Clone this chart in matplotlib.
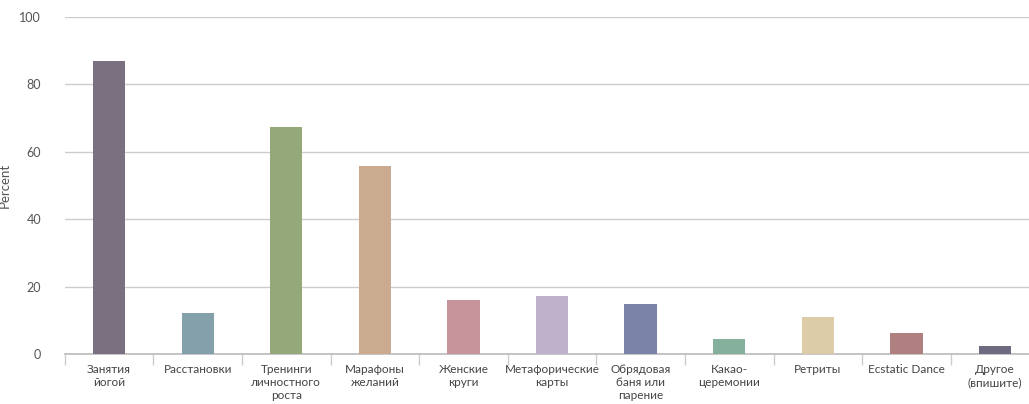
import numpy as np
import matplotlib.pyplot as plt

# Data

categories = ["Занятия\nйогой", "Расстановки", "Тренинги\nличностного\nроста",
              "Марафоны\nжеланий", "Женские\nкруги", "Метафорические\nкарты",
              "Обрядовая\nбаня или\nпарение", "Какао-\nцеремонии", "Ретриты",
              "Ecstatic Dance", "Другое\n(впишите)"]
percent = [87.0, 12.2, 67.4, 55.8, 16.0, 17.2, 14.8, 4.5, 11.0, 6.2, 2.4]
colors = ["#7a7080", "#84a0aa", "#94a87a", "#cbab8f", "#c8949c", "#bfb0cc",
          "#7a84a8", "#84b09c", "#dccca8", "#b08080", "#6e6a80"]

plt.rcParams['font.family'] = ['Lato', 'DejaVu Sans']

fig = plt.figure(figsize=(10.29, 4.04), dpi=100)
ax = fig.add_axes([0.063, 0.124, 0.947, 0.834])

x = np.arange(len(categories))
ax.bar(x, percent, width=0.365, color=colors, zorder=3)

# Formatting

ax.set_ylim(0, 100)
ax.set_xlim(-0.5, len(categories) - 0.5)
ax.set_yticks([0, 20, 40, 60, 80, 100])
ax.grid(axis='y', color='#cccccc', linewidth=1, zorder=0)
ax.set_xticks(x)
ax.set_xticklabels(categories, fontsize=8.5, color='#444444', linespacing=1.25)
ax.set_xticks(np.arange(-0.5, len(categories), 1), minor=True)
ax.tick_params(axis='x', which='major', length=0, pad=7)
ax.tick_params(axis='x', which='minor', length=8, color='#cccccc', width=1)
ax.tick_params(axis='y', length=0, pad=17, labelsize=9, labelcolor='#555555')
for s in ['top', 'right', 'left']:
    ax.spines[s].set_visible(False)
ax.spines['bottom'].set_color('#bbbbbb')
ax.spines['bottom'].set_linewidth(1.2)
ax.set_ylabel("Percent", fontsize=9.5, color='#555555', labelpad=6)

plt.savefig("out.png", dpi=100)
